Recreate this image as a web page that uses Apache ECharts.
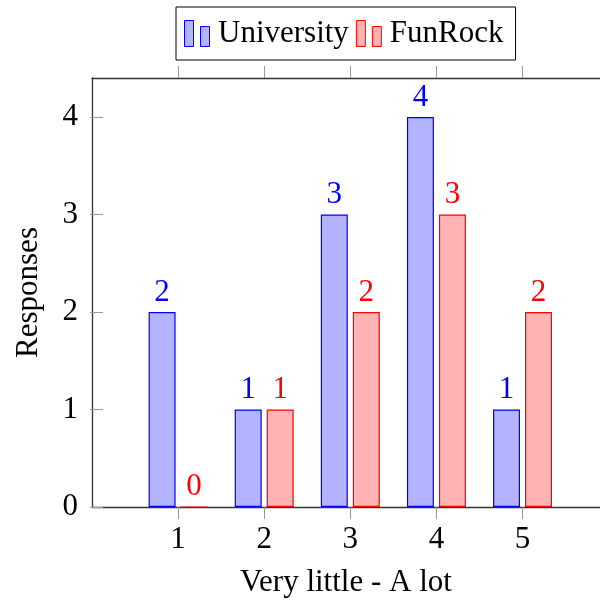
<!DOCTYPE html>
<html>
<head>
<meta charset="utf-8">
<script src="https://cdn.jsdelivr.net/npm/echarts@6/dist/echarts.min.js"></script>
<style>html,body{margin:0;padding:0;background:#fff;}#c{width:600px;height:603px;}</style>
</head>
<body>
<div id="c"></div>
<script>
var categories = [1, 2, 3, 4, 5];
var university = [2, 1, 3, 4, 1];
var funrock = [0, 1, 2, 3, 2];
var yTicks = [0, 1, 2, 3, 4];
var xName = 'Very little - A lot';
var yName = 'Responses';

var FONT = '"Liberation Serif", serif';
var FS = 31;

function pairs(vals) { return categories.map(function (c, i) { return [c, vals[i]]; }); }

var chart = echarts.init(document.getElementById('c'), null, { renderer: 'canvas' });
var tickStyle = { color: '#999', width: 1 };
var lineStyle = { color: '#333', width: 1.3 };
chart.setOption({
  animation: false,
  backgroundColor: '#fff',
  grid: { left: 92, top: 78, right: 0, bottom: 95 },
  legend: {
    top: 7, left: 176,
    orient: 'horizontal',
    borderColor: '#000', borderWidth: 1,
    padding: [11, 12, 11, 8],
    itemWidth: 26, itemHeight: 26, itemGap: 7,
    icon: 'path://M0,0H9V26H0Z M16,6H25V26H16Z',
    itemStyle: { borderWidth: 1 },
    textStyle: { fontFamily: FONT, fontSize: FS, color: '#000', padding: [0, 0, 0, 3] },
    data: ['University', 'FunRock']
  },
  xAxis: [{
    type: 'value', position: 'bottom', min: 0, max: 5.9, interval: 1,
    name: xName, nameLocation: 'middle', nameGap: 60,
    nameTextStyle: { fontFamily: FONT, fontSize: FS, color: '#000' },
    axisLine: { show: true, onZero: false, lineStyle: lineStyle },
    axisTick: { show: true, inside: false, length: 12, customValues: categories, lineStyle: tickStyle },
    axisLabel: { customValues: categories, fontFamily: FONT, fontSize: FS, color: '#000', margin: 17 },
    splitLine: { show: false }
  }, {
    type: 'value', position: 'top', min: 0, max: 5.9, interval: 1,
    axisLine: { show: true, onZero: false, lineStyle: lineStyle },
    axisTick: { show: true, inside: false, length: 12, customValues: categories, lineStyle: tickStyle },
    axisLabel: { show: false },
    splitLine: { show: false }
  }],
  yAxis: [{
    type: 'value', position: 'left', min: 0, max: 4.4, interval: 1,
    name: yName, nameLocation: 'middle', nameGap: 48, nameRotate: 90,
    nameTextStyle: { fontFamily: FONT, fontSize: FS, color: '#000' },
    axisLine: { show: true, onZero: false, lineStyle: lineStyle },
    axisTick: { show: true, inside: true, length: 11, customValues: yTicks, lineStyle: tickStyle },
    axisLabel: { customValues: yTicks, fontFamily: FONT, fontSize: FS, color: '#000', margin: 14 },
    splitLine: { show: false }
  }, {
    type: 'value', position: 'right', min: 0, max: 4.4, interval: 1,
    axisLine: { show: false },
    axisTick: { show: true, inside: true, length: 2, customValues: yTicks, lineStyle: tickStyle },
    axisLabel: { show: false },
    splitLine: { show: false }
  }],
  series: [{
    name: 'University', type: 'bar', xAxisIndex: 0, yAxisIndex: 0,
    data: pairs(university), barWidth: 27, barGap: '18.5%',
    itemStyle: { color: '#b3b3ff', borderColor: '#0000ff', borderWidth: 1.2 },
    label: { show: true, position: 'top', distance: 4, fontFamily: FONT, fontSize: FS, color: '#0000ff' }
  }, {
    name: 'FunRock', type: 'bar', xAxisIndex: 0, yAxisIndex: 0,
    data: pairs(funrock), barWidth: 27, barGap: '18.5%',
    itemStyle: { color: '#ffb3b3', borderColor: '#ff0000', borderWidth: 1.2 },
    label: { show: true, position: 'top', distance: 4, fontFamily: FONT, fontSize: FS, color: '#ff0000' }
  }]
});
</script>
</body>
</html>
